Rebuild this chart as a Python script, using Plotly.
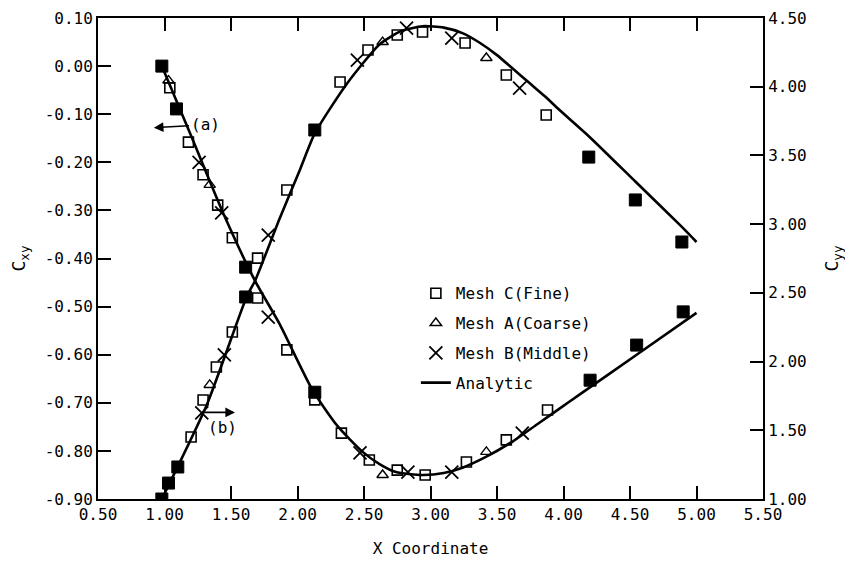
import plotly.graph_objects as go

# ---------------- data ----------------
# Analytic curves
an_cxy_x = [0.98, 1.20, 1.44, 1.68, 1.865, 2.11, 2.30, 2.49, 2.62, 2.74, 2.94, 3.10, 3.24, 3.42, 3.62, 3.80, 3.97, 4.12, 4.55, 5.00]
an_cxy_y = [0.00, -0.145, -0.305, -0.446, -0.536, -0.672, -0.748, -0.802, -0.828, -0.844, -0.850, -0.846, -0.835, -0.812, -0.780, -0.745, -0.712, -0.683, -0.600, -0.513]
an_cyy_x = [0.98, 1.32, 1.62, 1.68, 1.865, 2.02, 2.13, 2.37, 2.62, 2.78, 2.94, 3.10, 3.24, 3.37, 3.50, 3.62, 3.74, 3.86, 3.97, 4.19, 4.54, 4.89, 5.00]
an_cyy_y = [1.00, 1.69, 2.477, 2.586, 3.04, 3.40, 3.66, 4.02, 4.311, 4.405, 4.44, 4.43, 4.39, 4.32, 4.23, 4.13, 4.03, 3.93, 3.83, 3.64, 3.31, 2.98, 2.87]

# Mesh C (Fine)
c_cxy_x = [1.04, 1.18, 1.29, 1.40, 1.51, 1.70, 1.92, 2.13, 2.33, 2.54, 2.75, 2.96, 3.27, 3.57, 3.88]
c_cxy_y = [-0.045, -0.158, -0.226, -0.289, -0.357, -0.482, -0.590, -0.694, -0.763, -0.819, -0.840, -0.850, -0.823, -0.777, -0.715]
c_cyy_x = [1.20, 1.29, 1.39, 1.51, 1.70, 1.92, 2.32, 2.53, 2.75, 2.94, 3.26, 3.57, 3.87]
c_cyy_y = [1.451, 1.72, 1.96, 2.215, 2.753, 3.248, 4.034, 4.267, 4.376, 4.398, 4.318, 4.085, 3.794]

# Mesh A (Coarse)
a_cxy_x = [1.03, 1.34, 2.64, 3.42]
a_cxy_y = [-0.03, -0.247, -0.850, -0.802]
a_cyy_x = [1.34, 2.64, 3.42]
a_cyy_y = [1.83, 4.325, 4.209]

# Mesh B (Middle)
b_cxy_x = [1.26, 1.43, 1.78, 2.47, 2.83, 3.16, 3.69]
b_cxy_y = [-0.20, -0.305, -0.522, -0.804, -0.844, -0.844, -0.763]
b_cyy_x = [1.28, 1.45, 1.78, 2.45, 2.82, 3.16, 3.67]
b_cyy_y = [1.626, 2.048, 2.92, 4.194, 4.427, 4.354, 3.99]

# Points where all three meshes coincide (drawn filled)
co_cxy_x = [0.98, 1.09, 1.61, 2.13, 4.20, 4.55, 4.90]
co_cxy_y = [0.00, -0.089, -0.418, -0.678, -0.653, -0.580, -0.511]
co_cyy_x = [0.98, 1.03, 1.10, 1.61, 2.13, 4.19, 4.54, 4.89]
co_cyy_y = [1.00, 1.116, 1.233, 2.47, 3.685, 3.488, 3.176, 2.87]

# Tick labels
x_ticks = [0.5, 1.0, 1.5, 2.0, 2.5, 3.0, 3.5, 4.0, 4.5, 5.0, 5.5]
x_tick_text = ["0.50", "1.00", "1.50", "2.00", "2.50", "3.00", "3.50", "4.00", "4.50", "5.00", "5.50"]
yl_ticks = [0.1, 0.0, -0.1, -0.2, -0.3, -0.4, -0.5, -0.6, -0.7, -0.8, -0.9]
yl_tick_text = ["0.10", "0.00", "-0.10", "-0.20", "-0.30", "-0.40", "-0.50", "-0.60", "-0.70", "-0.80", "-0.90"]
yr_ticks = [1.0, 1.5, 2.0, 2.5, 3.0, 3.5, 4.0, 4.5]
yr_tick_text = ["1.00", "1.50", "2.00", "2.50", "3.00", "3.50", "4.00", "4.50"]

FONT = "DejaVu Sans Mono"
BLACK = "black"

fig = go.Figure()

# analytic lines
fig.add_trace(go.Scatter(x=an_cxy_x, y=an_cxy_y, mode="lines", name="Analytic",
                         line=dict(color=BLACK, width=2.6, shape="spline", smoothing=0.6),
                         legendgroup="an", legendrank=4, yaxis="y"))
fig.add_trace(go.Scatter(x=an_cyy_x, y=an_cyy_y, mode="lines", name="Analytic", showlegend=False,
                         line=dict(color=BLACK, width=2.6, shape="spline", smoothing=0.6),
                         legendgroup="an", legendrank=4, yaxis="y2"))

sq = dict(symbol="square-open", size=10, color=BLACK, line=dict(width=1.6, color=BLACK))
tri = dict(symbol="triangle-up-open", size=10, color=BLACK, line=dict(width=1.4, color=BLACK))
xx = dict(symbol="x-thin-open", size=13, color=BLACK, line=dict(width=1.8, color=BLACK))
fil = dict(symbol="square", size=12, color=BLACK, line=dict(width=1, color=BLACK))

fig.add_trace(go.Scatter(x=c_cxy_x, y=c_cxy_y, mode="markers", name="Mesh C(Fine)", marker=sq,
                         legendgroup="c", legendrank=1, yaxis="y"))
fig.add_trace(go.Scatter(x=c_cyy_x, y=c_cyy_y, mode="markers", name="Mesh C(Fine)", marker=sq,
                         legendgroup="c", legendrank=1, showlegend=False, yaxis="y2"))
fig.add_trace(go.Scatter(x=a_cxy_x, y=a_cxy_y, mode="markers", name="Mesh A(Coarse)", marker=tri,
                         legendgroup="a", legendrank=2, yaxis="y"))
fig.add_trace(go.Scatter(x=a_cyy_x, y=a_cyy_y, mode="markers", name="Mesh A(Coarse)", marker=tri,
                         legendgroup="a", legendrank=2, showlegend=False, yaxis="y2"))
fig.add_trace(go.Scatter(x=b_cxy_x, y=b_cxy_y, mode="markers", name="Mesh B(Middle)", marker=xx,
                         legendgroup="b", legendrank=3, yaxis="y"))
fig.add_trace(go.Scatter(x=b_cyy_x, y=b_cyy_y, mode="markers", name="Mesh B(Middle)", marker=xx,
                         legendgroup="b", legendrank=3, showlegend=False, yaxis="y2"))
fig.add_trace(go.Scatter(x=co_cxy_x, y=co_cxy_y, mode="markers", name="coincident", marker=fil,
                         showlegend=False, yaxis="y"))
fig.add_trace(go.Scatter(x=co_cyy_x, y=co_cyy_y, mode="markers", name="coincident", marker=fil,
                         showlegend=False, yaxis="y2"))

axis_common = dict(showline=True, linecolor=BLACK, linewidth=2, ticks="inside", ticklen=13,
                   tickwidth=1.5, tickcolor=BLACK, showgrid=False, zeroline=False, automargin=False,
                   tickfont=dict(family=FONT, size=16, color=BLACK))

# the page body adds an 8px offset, so the figure is sized to fit the window
fig.update_layout(
    width=845, height=557,
    paper_bgcolor="white", plot_bgcolor="white",
    margin=dict(l=90, r=90, t=10, b=66),
    font=dict(family=FONT, color=BLACK, size=16),
    xaxis=dict(range=[0.5, 5.5], tickvals=x_ticks, ticktext=x_tick_text, mirror="ticks",
               title=dict(text="X Coordinate", font=dict(family=FONT, size=16), standoff=20),
               **axis_common),
    yaxis=dict(range=[-0.9, 0.1], tickvals=yl_ticks, ticktext=yl_tick_text,
               title=dict(text="C<sub>xy</sub>", font=dict(family=FONT, size=18), standoff=16),
               **axis_common),
    yaxis2=dict(range=[1.0, 4.5], tickvals=yr_ticks, ticktext=yr_tick_text, overlaying="y", side="right",
                title=dict(text="C<sub>yy</sub>", font=dict(family=FONT, size=18), standoff=20),
                **axis_common),
    legend=dict(x=0.478, y=0.463, xanchor="left", yanchor="top", traceorder="grouped",
                tracegroupgap=6, bgcolor="rgba(0,0,0,0)", borderwidth=0,
                font=dict(family=FONT, size=16, color=BLACK)),
    showlegend=True,
)

# (a) arrow pointing left (to the Cxy axis), (b) arrow pointing right (to the Cyy axis)
fig.add_annotation(x=0.92, y=-0.128, ax=1.305, ay=-0.122, xref="x", yref="y", axref="x", ayref="y",
                   text="(a)", showarrow=True, arrowhead=2, arrowsize=1.2, arrowwidth=1.6,
                   arrowcolor=BLACK, font=dict(family=FONT, size=16, color=BLACK))
fig.add_annotation(x=1.53, y=-0.72, ax=1.29, ay=-0.72, xref="x", yref="y", axref="x", ayref="y",
                   text="", showarrow=True, arrowhead=2, arrowsize=1.2, arrowwidth=1.6, arrowcolor=BLACK)
fig.add_annotation(x=1.31, y=-0.752, xref="x", yref="y", text="(b)", showarrow=False,
                   xanchor="left", font=dict(family=FONT, size=16, color=BLACK))

fig.write_html("out.html")
